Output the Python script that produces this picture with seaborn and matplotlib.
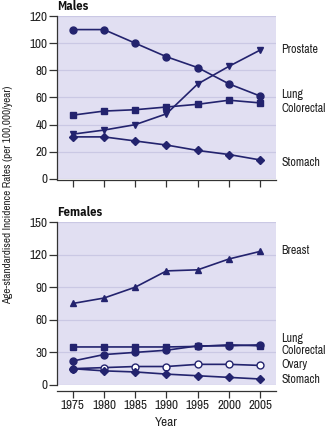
import matplotlib
matplotlib.use("Agg")
import matplotlib.pyplot as plt
import seaborn as sns
import pandas as pd
from matplotlib import font_manager

years = [1975, 1980, 1985, 1990, 1995, 2000, 2005]

# Males
male_lung = [110, 110, 100, 90, 82, 70, 61]
male_prostate = [33, 36, 40, 48, 70, 83, 95]
male_colorectal = [47, 50, 51, 53, 55, 58, 56]
male_stomach = [31, 31, 28, 25, 21, 18, 14]

# Females
female_breast = [75, 80, 90, 105, 106, 116, 123]
female_lung = [22, 28, 30, 32, 36, 36, 37]
female_colorectal = [35, 35, 35, 35, 35.5, 37, 36]
female_ovary = [15, 16, 17, 17, 19, 19, 18]
female_stomach = [15, 13, 12, 10, 8.5, 7, 5.5]

male_labels = ["Prostate", "Lung", "Colorectal", "Stomach"]
female_labels = ["Breast", "Lung", "Colorectal", "Ovary", "Stomach"]

sns.set_theme(style="white")
names = {f.name for f in font_manager.fontManager.ttflist}
family = next((n for n in ["Archivo Narrow", "PT Sans Narrow", "IBM Plex Sans Condensed",
                           "Liberation Sans"] if n in names), "DejaVu Sans")
bold_family = next((n for n in ["IBM Plex Sans Condensed", "Archivo Narrow",
                                "Liberation Sans"] if n in names), "DejaVu Sans")
plt.rcParams["font.family"] = [family, "DejaVu Sans"]

NAVY = "#23236e"
BG = "#e1dff2"
GRID = "#cac8e4"
AXC = "#333333"
TXT = "#222222"
FS = 9

fig = plt.figure(figsize=(3.26, 4.28), dpi=100)
ax1 = fig.add_axes([0.1748, 0.5818, 0.6718, 0.3808])
ax2 = fig.add_axes([0.1748, 0.1005, 0.6718, 0.3808])


def draw(ax, series):
    for vals, marker, filled in series:
        df = pd.DataFrame({"Year": years, "Rate": vals})
        sns.lineplot(data=df, x="Year", y="Rate", ax=ax, color=NAVY, lw=1.2,
                     marker=marker, markersize=5 if marker != "D" else 4,
                     markerfacecolor=NAVY if filled else "white",
                     markeredgecolor=NAVY, markeredgewidth=1.0)


def style(ax, ymax, step, offset):
    ax.set_facecolor(BG)
    ax.set_xlim(1972.5, 2007.5)
    ax.set_ylim(0, ymax)
    ax.set_yticks(range(0, ymax + 1, step))
    ax.set_xticks(years)
    ax.yaxis.grid(True, color=GRID, lw=0.9)
    ax.set_axisbelow(True)
    for s in ("top", "right"):
        ax.spines[s].set_visible(False)
    for s in ("left", "bottom"):
        ax.spines[s].set_color(AXC)
        ax.spines[s].set_linewidth(0.9)
    ax.spines["bottom"].set_position(("outward", offset))
    ax.tick_params(axis="y", direction="out", length=6, width=0.9, color=AXC,
                   labelsize=FS + 0.5, labelcolor=TXT, pad=1, left=True)
    ax.tick_params(axis="x", direction="out", length=5, width=0.9, color=AXC,
                   labelsize=FS + 0.5, labelcolor=TXT, pad=2, bottom=True)
    ax.set_xlabel("")
    ax.set_ylabel("")


draw(ax1, [(male_lung, "o", True), (male_prostate, "v", True),
           (male_colorectal, "s", True), (male_stomach, "D", True)])
draw(ax2, [(female_breast, "^", True), (female_colorectal, "s", True),
           (female_lung, "o", True), (female_ovary, "o", False),
           (female_stomach, "D", True)])

style(ax1, 120, 20, 1)
style(ax2, 150, 30, 4)
ax1.tick_params(axis="x", labelbottom=False)

ax1.text(0.0, 1.02, "Males", transform=ax1.transAxes, fontsize=FS,
         fontweight="bold", family=[bold_family, "DejaVu Sans"],
         ha="left", va="bottom", color="#111111")
ax2.text(0.0, 1.02, "Females", transform=ax2.transAxes, fontsize=FS,
         fontweight="bold", family=[bold_family, "DejaVu Sans"],
         ha="left", va="bottom", color="#111111")

# series labels placed to the right of each panel
LFS = 8.6
male_label_y = [95, 62, 52, 12]
female_label_y = [124, 43, 32, 18.5, 4.6]
for lab, y in zip(male_labels, male_label_y):
    ax1.annotate(lab, xy=(1, y), xycoords=("axes fraction", "data"),
                 xytext=(4, 0), textcoords="offset points", fontsize=LFS,
                 va="center", ha="left", color=TXT)
for lab, y in zip(female_labels, female_label_y):
    ax2.annotate(lab, xy=(1, y), xycoords=("axes fraction", "data"),
                 xytext=(4, 0), textcoords="offset points", fontsize=LFS,
                 va="center", ha="left", color=TXT)

ax2.set_xlabel("Year", fontsize=FS + 0.5, color=TXT, labelpad=4)
fig.text(0.025, 0.545, "Age-standardised Incidence Rates (per 100,000/year)",
         rotation=90, fontsize=8, ha="center", va="center", color=TXT)

fig.savefig("out.png", dpi=100)
